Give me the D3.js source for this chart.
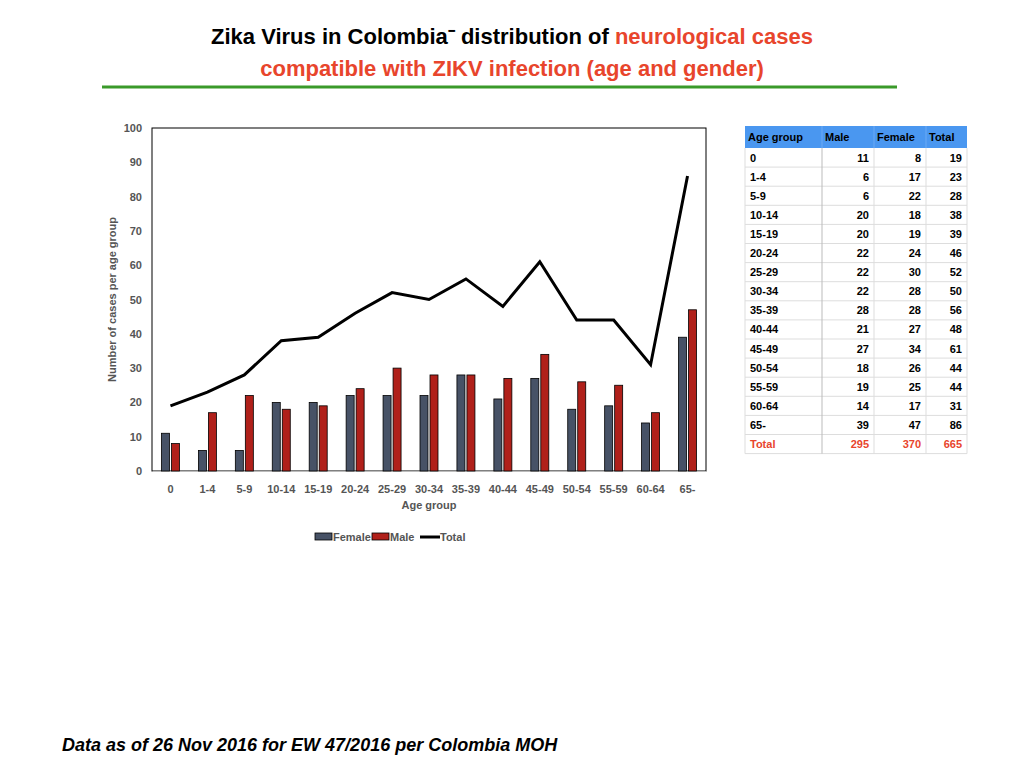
<!DOCTYPE html>
<html><head><meta charset="utf-8">
<script src="https://cdn.jsdelivr.net/npm/d3@7"></script>
<style>body{margin:0;background:#fff;font-family:"Liberation Sans",Arial,sans-serif}</style>
</head><body>
<svg id="c" width="1024" height="768"></svg>
<script>
const ageGroups=["0","1-4","5-9","10-14","15-19","20-24","25-29","30-34","35-39","40-44","45-49","50-54","55-59","60-64","65-"];
const maleVals=[11,6,6,20,20,22,22,22,28,21,27,18,19,14,39];
const femaleVals=[8,17,22,18,19,24,30,28,28,27,34,26,25,17,47];
const totalVals=[19,23,28,38,39,46,52,50,56,48,61,44,44,31,86];
const yTicks=[0,10,20,30,40,50,60,70,80,90,100];
const totals=["295","370","665"];

const svg=d3.select("#c");
const F="Liberation Sans, Arial, sans-serif";
svg.append("text").attr("x",512).attr("y",44).attr("text-anchor","middle").attr("font-size",22).attr("font-weight","bold").attr("font-family",F)
 .call(t=>{t.append("tspan").text("Zika Virus in Colombia\u207B  distribution of ");t.append("tspan").attr("fill","#e8452c").text("neurological cases");});
svg.append("text").attr("x",512).attr("y",76).attr("text-anchor","middle").attr("font-size",22).attr("font-weight","bold").attr("font-family",F).attr("fill","#e8452c").text("compatible with ZIKV infection (age and gender)");
svg.append("line").attr("x1",102).attr("x2",897).attr("y1",87).attr("y2",87).attr("stroke","#3a9a2a").attr("stroke-width",3);

const L=152,R=706,T=128,B=471;
const x=d3.scaleBand().domain(ageGroups).range([L,R]);
const y=d3.scaleLinear().domain([0,100]).range([B,T]);
const g=svg.append("g");
g.append("rect").attr("x",L).attr("y",T).attr("width",R-L).attr("height",B-T).attr("fill","none").attr("stroke","#000").attr("stroke-width",1);
const yAx=g.append("g").attr("transform",`translate(${L},0)`).call(d3.axisLeft(y).tickValues(yTicks).tickSize(0).tickPadding(10));
yAx.select(".domain").remove();
yAx.selectAll("text").attr("font-size",11).attr("font-weight","bold").attr("fill","#555").attr("font-family",F);
const xAx=g.append("g").attr("transform",`translate(0,${B})`).call(d3.axisBottom(x).tickSize(0).tickPadding(14));
xAx.select(".domain").attr("stroke","#bbb");
xAx.selectAll("text").attr("font-size",11).attr("font-weight","bold").attr("fill","#555").attr("font-family",F);
const bw=8;
g.selectAll(".m").data(maleVals).join("rect").attr("x",(d,i)=>x(ageGroups[i])+x.bandwidth()/2-bw-1).attr("y",d=>y(d)).attr("width",bw).attr("height",d=>B-y(d)).attr("fill","#475266").attr("stroke","#000").attr("stroke-width",0.8);
g.selectAll(".f").data(femaleVals).join("rect").attr("x",(d,i)=>x(ageGroups[i])+x.bandwidth()/2+1).attr("y",d=>y(d)).attr("width",bw).attr("height",d=>B-y(d)).attr("fill","#b0201a").attr("stroke","#000").attr("stroke-width",0.8);
g.append("path").datum(totalVals).attr("fill","none").attr("stroke","#000").attr("stroke-width",3)
 .attr("d",d3.line().x((d,i)=>x(ageGroups[i])+x.bandwidth()/2).y(d=>y(d)));
g.append("text").attr("x",(L+R)/2).attr("y",509).attr("text-anchor","middle").attr("font-size",11).attr("font-weight","bold").attr("fill","#555").attr("font-family",F).text("Age group");
g.append("text").attr("transform",`translate(116,${(T+B)/2}) rotate(-90)`).attr("text-anchor","middle").attr("font-size",11).attr("font-weight","bold").attr("fill","#555").attr("font-family",F).text("Number  of cases per age group");
// legend
const lg=g.append("g").attr("font-size",11).attr("font-weight","bold").attr("fill","#555").attr("font-family",F);
lg.append("rect").attr("x",315).attr("y",533).attr("width",17).attr("height",7).attr("fill","#475266").attr("stroke","#000").attr("stroke-width",0.8);
lg.append("text").attr("x",333).attr("y",541).text("Female");
lg.append("rect").attr("x",343+29).attr("y",533).attr("width",17).attr("height",7).attr("fill","#b0201a").attr("stroke","#000").attr("stroke-width",0.8);
lg.append("text").attr("x",390).attr("y",541).text("Male");
lg.append("line").attr("x1",420).attr("x2",440).attr("y1",537).attr("y2",537).attr("stroke","#000").attr("stroke-width",3);
lg.append("text").attr("x",440).attr("y",541).text("Total");

// table
const cx=[745,822,874,926,967];
const tb=svg.append("g").attr("font-family",F).attr("font-size",11).attr("font-weight","bold");
tb.append("rect").attr("x",745).attr("y",126).attr("width",222).attr("height",22).attr("fill","#4a97f0");
["Age group","Male","Female","Total"].forEach((h,j)=>tb.append("text").attr("x",cx[j]+3).attr("y",141).text(h));
[822,874,926].forEach(v=>tb.append("line").attr("x1",v).attr("x2",v).attr("y1",126).attr("y2",148).attr("stroke","#6aaaf5"));
const rh=19.1;
const rows=ageGroups.map((a,i)=>[a,maleVals[i],femaleVals[i],totalVals[i]]);
rows.push(["Total",...totals]);
rows.forEach((r,i)=>{
 const y0=148+i*rh;
 const red=i===rows.length-1;
 tb.append("line").attr("x1",745).attr("x2",967).attr("y1",y0+rh).attr("y2",y0+rh).attr("stroke","#ddd");
 r.forEach((v,j)=>tb.append("text").attr("x",j===0?cx[0]+5:cx[j+1]-5).attr("y",y0+13.5).attr("text-anchor",j===0?"start":"end").attr("fill",red?"#e8452c":"#000").text(v));
});
[822,874,926].forEach(v=>tb.append("line").attr("x1",v).attr("x2",v).attr("y1",148).attr("y2",148+16*rh).attr("stroke",v===822?"#bbb":"#ddd"));
tb.append("line").attr("x1",967).attr("x2",967).attr("y1",148).attr("y2",148+16*rh).attr("stroke","#ddd");
tb.append("line").attr("x1",745).attr("x2",745).attr("y1",148).attr("y2",148+16*rh).attr("stroke","#ddd");

svg.append("text").attr("x",62).attr("y",751).attr("font-size",18).attr("font-weight","bold").attr("font-style","italic").attr("font-family",F).text("Data as of 26 Nov 2016 for EW 47/2016 per Colombia MOH");
</script>
</body></html>
